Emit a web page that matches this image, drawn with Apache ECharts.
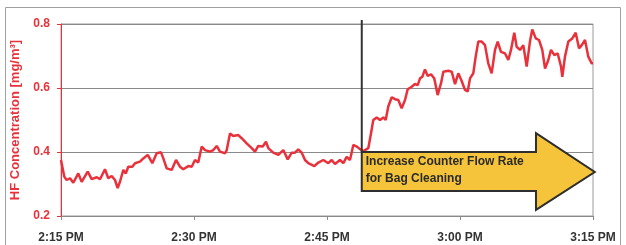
<!DOCTYPE html>
<html>
<head>
<meta charset="utf-8">
<script src="https://cdn.jsdelivr.net/npm/echarts@6/dist/echarts.min.js"></script>
<style>
html,body{margin:0;padding:0;background:#fff;}
#chart{width:626px;height:245px;}
</style>
</head>
<body>
<div id="chart"></div>
<script>
// Tick labels (minutes after 2:15 PM: 0, 15, 30, 45, 60)
const tickLabels = ['2:15 PM', '2:30 PM', '2:45 PM', '3:00 PM', '3:15 PM'];
// Time in minutes after 2:15 PM
const timeMin = [
  0, 0.37, 0.64, 1.02, 1.39, 1.95, 2.33, 3.01, 3.46, 4.03, 4.40, 4.96, 5.33, 5.72, 6.09, 6.39, 6.65,
  7.03, 7.30, 7.59, 8.04, 8.35, 8.91, 9.28, 9.78, 10.30, 10.79, 11.28, 11.54, 11.92, 12.48, 12.97,
  13.42, 13.79, 14.36, 14.74, 15.11, 15.48, 15.87, 16.24, 16.80, 17.18, 17.56, 17.93, 18.50, 18.69,
  19.06, 19.43, 20.00, 20.38, 20.94, 21.51, 21.88, 22.25, 22.75, 23.12, 23.38, 23.94, 24.51, 25.07,
  25.57, 26.02, 26.39, 26.76, 27.15, 27.52, 27.89, 28.57, 29.02, 29.58, 30.15, 30.53, 30.90, 31.47,
  31.84, 32.22, 32.59, 32.97, 33.35, 33.72, 34.09, 34.66, 34.96, 35.22, 35.61, 35.98, 36.35, 36.62,
  36.91, 37.30, 37.67, 38.04, 38.42, 38.80, 39.10, 39.55, 39.92, 40.23, 40.49, 40.75, 41.05, 41.36,
  41.73, 42.10, 42.48, 42.86, 43.12, 43.68, 44.06, 44.44, 44.81, 45.19, 45.56, 45.87, 46.13, 46.50,
  46.77, 47.06, 47.45, 47.82, 48.19, 48.57, 48.95, 49.25, 49.62, 50.08, 50.45, 50.75, 51.12, 51.39,
  51.77, 52.14, 52.52, 52.89, 53.15, 53.54, 53.91, 54.28, 54.59, 54.96, 55.26, 55.64, 56.02, 56.39,
  56.54, 56.84, 57.22, 57.67, 58.05, 58.42, 58.73, 59.10, 59.47, 59.85, 60.0
];
// HF concentration, mg/m³
const hfValues = [
  0.375, 0.323, 0.3125, 0.318, 0.304, 0.333, 0.307, 0.339, 0.315, 0.321, 0.315, 0.346, 0.318, 0.325, 0.3125, 0.287, 0.307,
  0.344, 0.333, 0.354, 0.354, 0.365, 0.370, 0.380, 0.391, 0.365, 0.396, 0.399, 0.380, 0.349, 0.344, 0.375,
  0.354, 0.346, 0.356, 0.354, 0.375, 0.367, 0.417, 0.406, 0.401, 0.406, 0.419, 0.401, 0.396, 0.406,
  0.458, 0.450, 0.453, 0.443, 0.427, 0.412, 0.401, 0.419, 0.417, 0.432, 0.412, 0.398, 0.391, 0.406,
  0.377, 0.398, 0.398, 0.408, 0.398, 0.375, 0.365, 0.356, 0.367, 0.375, 0.365, 0.375, 0.3625, 0.375,
  0.365, 0.385, 0.375, 0.422, 0.417, 0.409, 0.403, 0.412, 0.458, 0.500, 0.508, 0.500, 0.508, 0.500,
  0.542, 0.571, 0.565, 0.5625, 0.537, 0.5625, 0.596, 0.604, 0.6125, 0.609, 0.630, 0.635, 0.658, 0.6375,
  0.643, 0.630, 0.578, 0.615, 0.651, 0.654, 0.651, 0.612, 0.646, 0.622, 0.594, 0.589, 0.630, 0.646,
  0.698, 0.745, 0.745, 0.734, 0.677, 0.646, 0.719, 0.745, 0.713, 0.708, 0.6875, 0.719, 0.773, 0.729,
  0.719, 0.734, 0.667, 0.745, 0.783, 0.755, 0.750, 0.719, 0.661, 0.6875, 0.719, 0.703, 0.708, 0.667,
  0.635, 0.698, 0.745, 0.755, 0.773, 0.724, 0.734, 0.750, 0.698, 0.677, 0.677
];
// Annotation
const eventMin = 33.92;               // counter-flow change
const annotationText = ['Increase Counter Flow Rate', 'for Bag Cleaning'];

const RED = '#e8313a';
const chart = echarts.init(document.getElementById('chart'));
chart.setOption({
  animation: false,
  backgroundColor: '#fff',
  grid: { left: 61, right: 33, top: 24, bottom: 29, show: true, borderColor: '#9a9a9a', borderWidth: 1 },
  xAxis: {
    type: 'value', min: 0, max: 60, interval: 15,
    axisLine: { lineStyle: { color: '#8a8a8a', width: 1 } },
    axisTick: { show: true, length: 4, lineStyle: { color: '#8a8a8a' } },
    axisLabel: {
      margin: 16, color: '#333', fontWeight: 'bold', fontSize: 12, fontFamily: 'Liberation Sans',
      formatter: v => tickLabels[Math.round(v / 15)] || ''
    },
    splitLine: { show: false }
  },
  yAxis: {
    type: 'value', min: 0.2, max: 0.8, interval: 0.2,
    name: 'HF Concentration [mg/m³]', nameLocation: 'middle', nameRotate: 90, nameGap: 37,
    nameTextStyle: { color: RED, fontSize: 13, fontWeight: 'bold', fontFamily: 'Liberation Sans' },
    axisLine: { show: true, lineStyle: { color: RED, width: 1 } },
    axisTick: { show: true, length: 4, lineStyle: { color: RED } },
    axisLabel: {
      margin: 11, color: RED, fontWeight: 'bold', fontSize: 12, fontFamily: 'Liberation Sans',
      formatter: v => v.toFixed(1)
    },
    splitLine: { show: true, lineStyle: { color: '#8a8a8a', width: 1 } }
  },
  series: [{
    type: 'line',
    data: timeMin.map((t, i) => [t, hfValues[i]]),
    showSymbol: false,
    lineStyle: { color: RED, width: 2.5 },
    clip: false,
    z: 3
  }]
});

// Annotation drawn through the axes' scales
const P = (t, v) => chart.convertToPixel({ gridIndex: 0 }, [t, v]);
const shaftTop = 0.4, shaftBot = 0.278, headTop = 0.459, headBot = 0.219, tipV = 0.3375;
const headStart = 53.57, tipT = 60.2;
const pts = [
  P(eventMin, shaftTop), P(headStart, shaftTop), P(headStart, headTop), P(tipT, tipV),
  P(headStart, headBot), P(headStart, shaftBot), P(eventMin, shaftBot)
];
const lineTop = P(eventMin, 0.8125), lineBot = P(eventMin, shaftTop);
const t1 = P(eventMin, 0.37), t2 = P(eventMin, 0.317);
chart.setOption({
  graphic: [
    { type: 'rect', shape: { x: 5.5, y: 7.5, width: 615, height: 260 }, style: { fill: null, stroke: '#a0a0a0', lineWidth: 1 }, z: 0, silent: true },
    { type: 'line', shape: { x1: lineTop[0], y1: lineTop[1], x2: lineBot[0], y2: lineBot[1] }, style: { stroke: '#333', lineWidth: 2 }, z: 10 },
    { type: 'polygon', shape: { points: pts }, style: { fill: '#f5c43a', stroke: '#2e2e2e', lineWidth: 2, lineJoin: 'miter' }, z: 11 },
    { type: 'text', x: t1[0] + 4, y: t1[1], style: { text: annotationText[0], font: 'bold 12px "Liberation Sans"', fill: '#2a2a2a', textVerticalAlign: 'middle' }, z: 12 },
    { type: 'text', x: t2[0] + 4, y: t2[1], style: { text: annotationText[1], font: 'bold 12px "Liberation Sans"', fill: '#2a2a2a', textVerticalAlign: 'middle' }, z: 12 }
  ]
});
</script>
</body>
</html>
